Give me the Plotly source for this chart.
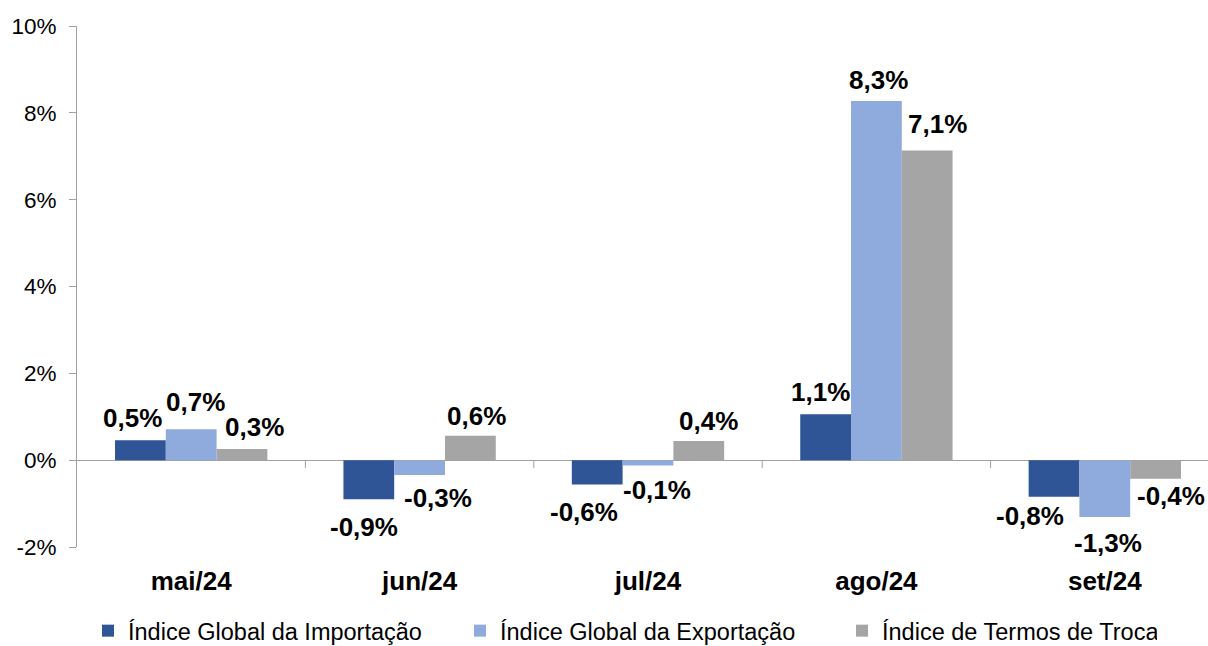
import plotly.graph_objects as go

categories = ["mai/24", "jun/24", "jul/24", "ago/24", "set/24"]
series_names = ["Índice Global da Importação", "Índice Global da Exportação", "Índice de Termos de Troca"]
importacao = [0.46, -0.90, -0.56, 1.06, -0.84]
exportacao = [0.71, -0.34, -0.12, 8.27, -1.31]
termos = [0.26, 0.56, 0.44, 7.13, -0.43]
y_ticks = [-2, 0, 2, 4, 6, 8, 10]

colors = ["#2F5597", "#8FAADC", "#A5A5A5"]
series = [importacao, exportacao, termos]
legend_widths = [327, 337, 270]

# label nudges (px) relative to each bar's end, mimicking the manual placement
label_dx = [
    [-8, -5, -13, -5, -24],
    [4, 18, 9, 2, 3],
    [13, 6, 10, 10, 15],
]
label_dy = [
    [22, -28, -28, 22, -19],
    [27, -23, -25, 21, -26],
    [22, 20, 20, 27, -17],
]

W, H = 1208, 646
ML, MR, MT, MB = 77, 0, 26, 99
plot_w = W - ML - MR
cat_px = 228.4
bargap = 0.333
bar_px = cat_px * (1 - bargap) / 3
x_end = -0.5 + plot_w / cat_px

fig = go.Figure()
for i, (name, vals) in enumerate(zip(series_names, series)):
    fig.add_trace(go.Bar(
        x=categories, y=vals, name=name,
        marker=dict(color=colors[i], line=dict(width=0)),
        legendwidth=legend_widths[i],
        hoverinfo="skip",
    ))

def fmt(v):
    return f"{v:.1f}".replace(".", ",") + "%"

annotations = []
for i, vals in enumerate(series):
    for j, v in enumerate(vals):
        annotations.append(dict(
            x=categories[j], y=v, xref="x", yref="y",
            text=fmt(v), showarrow=False,
            xshift=(i - 1) * bar_px + label_dx[i][j],
            yshift=label_dy[i][j],
            xanchor="center", yanchor="middle",
            font=dict(family="Liberation Sans, Arial, sans-serif", size=26, color="#000000", weight="bold"),
        ))

shapes = []
for k in range(1, len(categories)):
    shapes.append(dict(
        type="line", xref="x", yref="y",
        x0=k - 0.5, x1=k - 0.5,
        ysizemode="pixel", yanchor=0, y0=0, y1=-8,
        line=dict(color="#A0A0A0", width=1),
    ))

fig.update_layout(
    width=W, height=H,
    margin=dict(l=ML, r=MR, t=MT, b=MB, autoexpand=False),
    paper_bgcolor="white", plot_bgcolor="white",
    barmode="group", bargap=bargap, bargroupgap=0,
    font=dict(family="Liberation Sans, Arial, sans-serif", color="#000000"),
    xaxis=dict(
        type="category", range=[-0.5, x_end],
        showline=False, showgrid=False, zeroline=False,
        ticks="", ticklabelstandoff=16,
        tickfont=dict(size=26, weight="bold", color="#000000"),
        fixedrange=True,
    ),
    yaxis=dict(
        range=[-2, 10], tickvals=y_ticks,
        ticktext=[f"{t}%" for t in y_ticks],
        showline=True, linecolor="#A0A0A0", linewidth=1,
        ticks="outside", ticklen=7, tickcolor="#A0A0A0",
        ticklabelstandoff=8,
        showgrid=False,
        zeroline=True, zerolinecolor="#A0A0A0", zerolinewidth=1,
        tickfont=dict(size=22.5, color="#000000"),
        fixedrange=True,
    ),
    legend=dict(
        orientation="h", x=(88 - ML) / plot_w, xanchor="left",
        y=-0.161, yanchor="middle",
        font=dict(size=23.5, color="#000000"),
        entrywidthmode="pixels",
        traceorder="normal", itemclick=False, itemdoubleclick=False,
    ),
    annotations=annotations,
    shapes=shapes,
    showlegend=True,
)

fig.write_html(
    "out.html",
    config={"displayModeBar": False},
    post_script="document.body.style.margin='0';document.body.style.overflow='hidden';",
)
